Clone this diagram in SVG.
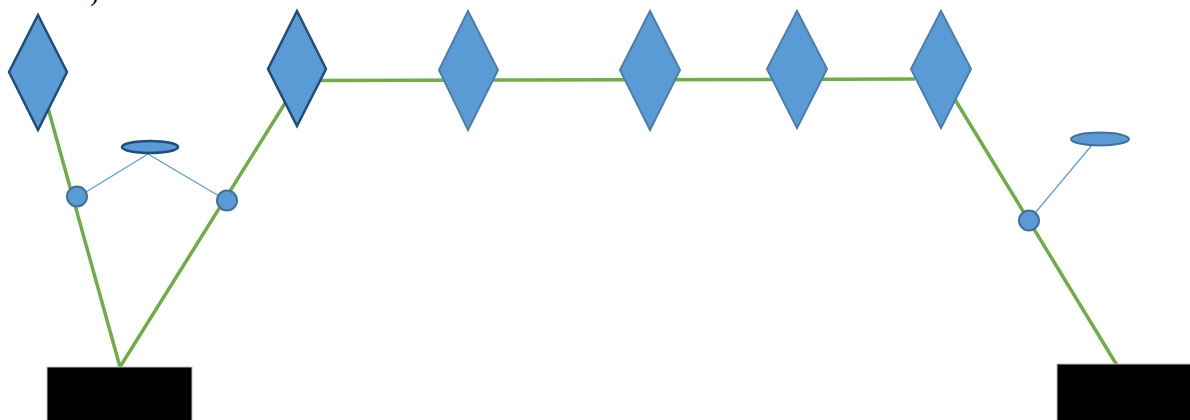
<svg xmlns="http://www.w3.org/2000/svg" width="1190" height="420" viewBox="0 0 1190 420">
<style>
.g{stroke:#70ad47;stroke-width:3.5;fill:none;stroke-linecap:butt}
.t{stroke:#5b9bd5;stroke-width:1.2;fill:none}
.dk{fill:#5b9bd5;stroke:#1f4e79;stroke-width:2.5;stroke-linejoin:miter}
.lt{fill:#5b9bd5;stroke:#4a7eae;stroke-width:2;stroke-linejoin:miter}
.c{fill:#5b9bd5;stroke:#41719c;stroke-width:2}
.base{fill:#000;stroke:#bfbfbf;stroke-width:1}
</style>
<rect width="1190" height="420" fill="#fff"/>
<text x="90" y="1" font-family="Liberation Serif, serif" font-size="26" fill="#000">)</text>
<g id="connectors">
<polyline class="g" points="38,72 120,367 297,84"/>
<line class="g" x1="320" y1="80.5" x2="915" y2="79"/>
<line class="g" x1="937" y1="70" x2="1118" y2="367"/>
<line class="t" x1="148" y1="154" x2="86" y2="192"/>
<line class="t" x1="148" y1="154" x2="219" y2="196"/>
<line class="t" x1="1092" y1="145" x2="1035" y2="213"/>
</g>
<g id="base-left"><rect class="base" x="47" y="367" width="145" height="60"/></g>
<g id="base-right"><rect class="base" x="1057" y="364" width="140" height="60"/></g>
<g id="d1"><polygon class="dk" points="38,15 67,72 38,130 9,72"/></g>
<g id="d2"><polygon class="dk" points="297,11 326,69 297,126 268,69"/></g>
<g id="d3"><polygon class="lt" points="468,11 498,70 468,130 439,70"/></g>
<g id="d4"><polygon class="lt" points="650,11 680,70 650,130 620,70"/></g>
<g id="d5"><polygon class="lt" points="797,11 827,69 797,128 767,69"/></g>
<g id="d6"><polygon class="lt" points="941,11 971,69 941,128 911,69"/></g>
<g id="c1"><circle class="c" cx="77" cy="196.5" r="10"/></g>
<g id="c2"><circle class="c" cx="227" cy="200.5" r="10"/></g>
<g id="c3"><circle class="c" cx="1029" cy="220.5" r="10"/></g>
<g id="e1"><ellipse class="dk" cx="150" cy="147" rx="28" ry="6" stroke-width="2"/></g>
<g id="e2"><ellipse class="c" cx="1100" cy="139" rx="29" ry="6.5" stroke="#4a7eae"/></g>
</svg>
